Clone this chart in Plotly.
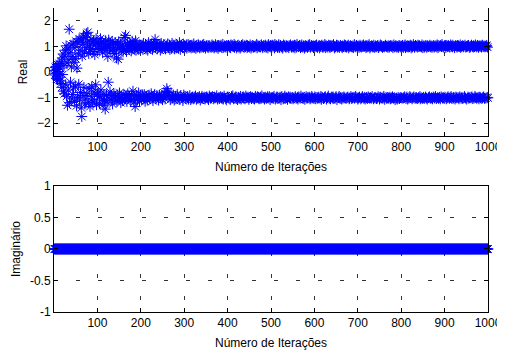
import plotly.graph_objects as go
from plotly.subplots import make_subplots

real_001_100 = [
    0.05, -0.12, 0.18, -0.05, 0.22, -0.25, 0.10, -0.30, 0.28, -0.15, 0.02, 0.33, -0.20, 0.15, -0.35,
    -0.45, 0.40, -0.60, 0.55, -0.10, 0.70, -0.75, 0.25, -0.85, 0.62, 0.85, -0.50, 1.02, -0.95, 0.35,
    -1.30, 0.90, -0.70, 0.48, 1.67, -1.20, 0.75, -0.40, 1.05, 0.20, -1.05, 0.60, -0.88, 1.10, -0.62,
    0.38, -1.15, 0.95, -0.55, 0.52, 1.20, -1.32, 0.15, -0.98, 1.15, 0.70, -0.48, 1.30, -1.10, 0.85,
    -0.80, 1.25, -1.40, -1.74, 0.62, 1.08, -0.92, 1.40, -0.60, 0.78, -1.25, 1.35, -1.05, 0.95, 1.50,
    -0.85, 1.18, 1.55, -1.20, 0.72, -0.65, 1.02, -1.35, 0.88, 1.28, -0.95, -0.58, 1.12, -1.18, 0.80,
    1.22, -0.78, -1.10, 0.68, 1.05, -0.50, 1.30, -1.28, 0.92, -0.88]
real_101_200 = [
    1.15, -0.82, 1.08, 0.88, -1.22, -0.95, 1.30, -0.70, 0.92, 1.18,
    -1.05, 0.75, -1.30, 1.10, -0.88, -1.12, 0.98, -1.45, 1.22, 0.85,
    -0.90, -1.18, 1.05, 0.60, -0.40, 1.25, -1.02, 0.95, -0.78, 1.12,
    0.82, -1.10, -0.92, 1.20, -1.25, 0.90, 1.02, -0.85, 0.72, -1.08,
    1.15, -0.95, 0.88, 0.55, -1.15, 1.08, -0.90, 0.50, 1.18, -1.02,
    -0.82, 0.95, 1.10, -1.20, 0.85, -0.98, 1.05, -1.12, 0.78, 0.92,
    -0.88, 1.35, -1.05, 0.90, 1.43, -0.92, 0.80, -1.15, 1.12, -0.85,
    1.00, -1.02, 0.88, -0.95, 1.15, 1.08, -1.10, 0.82, -0.88, 1.20,
    0.95, -0.75, 1.05, -1.18, 0.90, -1.02, -1.35, 1.22, 0.85, -0.92,
    1.10, -1.08, 0.92, 0.88, -0.82, 1.05, -1.12, 0.98, -0.90, 1.02]
real_201_300 = [
    0.95, -1.08, 1.05, -0.92, 0.88, 1.12, -1.02, -0.88, 0.98, -1.15,
    1.08, 0.90, -0.95, 1.02, -1.10, 0.85, -0.98, 1.15, -0.90, 0.95,
    -1.05, 1.00, 0.92, -0.85, 1.10, -1.02, 0.88, -1.12, 1.05, -0.95,
    1.12, -0.88, 1.27, 0.95, -1.05, 1.02, -0.92, 0.90, 1.08, -1.00,
    -1.10, 0.98, -0.90, 1.05, 0.85, -1.02, 1.12, -0.95, 0.92, -1.08,
    1.00, -0.98, 1.08, -0.82, 0.95, -1.05, 0.90, -0.88, 1.02, -0.65,
    -0.75, 1.10, -0.80, 0.95, -0.92, 1.05, 0.88, -1.08, 1.00, -0.95,
    0.92, 1.12, -1.02, 0.98, -0.90, 1.05, -1.10, 0.90, 1.02, -0.95,
    -1.05, 0.95, 1.08, -0.88, 1.00, -1.02, 0.92, -0.98, 1.15, -1.08,
    0.88, -0.92, 1.05, 1.02, -1.00, 0.95, -1.12, 1.08, -0.90, 0.98]
real_301_400 = [
    1.02, -0.95, 0.98, -1.04, 1.06, 0.93, -1.00, -0.97, 1.08, -1.06,
    0.96, 1.03, -0.92, 1.00, -1.08, 0.94, -1.02, 1.05, -0.98, 0.97,
    -1.05, 1.10, 0.95, -1.00, 1.02, -0.94, 0.92, -1.07, 1.04, -0.99,
    0.97, -1.03, 1.06, 1.00, -0.96, 0.94, -1.10, 1.02, 0.98, -1.01,
    -0.95, 1.05, -1.04, 0.96, 1.08, -0.98, 1.00, -1.06, 0.93, -1.00,
    1.03, -0.97, 0.99, -1.02, 0.95, -1.08, 1.04, -0.94, 1.01, -0.99,
    -1.03, 0.96, -1.00, 1.06, -0.96, 0.98, 1.02, -1.05, 0.94, -0.98,
    1.00, 1.07, -1.01, 0.97, -0.93, 1.04, -1.06, 0.92, 1.03, -1.00,
    -1.04, 0.98, 1.01, -0.97, 1.05, -1.02, 0.95, -0.99, 1.08, -1.06,
    0.96, -0.94, 1.02, 1.00, -1.03, 0.97, -1.09, 1.04, -0.98, 0.99]
real_401_500 = [
    -0.98, 1.04, -1.02, 0.97, 1.01, -1.07, 0.95, 1.06, -0.96, -1.00,
    1.03, -0.93, 0.99, -1.05, 1.08, 0.96, -1.01, 1.02, -0.97, -1.04,
    0.94, 1.00, -1.08, 1.05, -0.99, 0.97, -1.03, 1.01, 0.93, -0.95,
    -1.06, 1.04, 0.98, -1.00, 1.07, -0.97, -1.02, 0.96, 1.02, -1.05,
    0.99, -0.94, 1.05, -1.01, 0.95, 1.03, -0.98, 1.00, -1.07, 0.97,
    -1.00, 1.06, -0.96, 0.93, -1.04, 1.01, -0.99, 1.04, 0.96, -1.03,
    1.00, -1.06, 0.98, -0.95, 1.02, -1.01, 1.08, 0.94, -0.97, 1.03,
    -1.02, 0.99, -1.05, 1.01, 0.97, -0.98, -1.04, 1.06, -0.93, 1.00,
    0.95, -1.01, 1.03, -0.99, -1.06, 0.98, 1.05, -1.00, 0.96, -1.03,
    1.02, -0.97, 0.94, 1.07, -1.02, -0.96, 1.00, -1.08, 1.04, 0.98]
real_501_600 = [
    -1.01, 0.97, 1.05, -0.99, -1.03, 1.02, -0.95, 0.94, 1.08, -1.06,
    0.99, -1.00, 1.03, -0.97, 0.96, -1.04, 1.01, 1.07, -1.02, 0.95,
    -0.98, 1.04, -1.08, 0.98, -0.96, 1.00, 0.93, -1.05, 1.06, -1.01,
    1.02, -0.94, -1.03, 0.97, 1.04, -1.00, 0.99, -1.07, 1.01, -0.97,
    0.95, 1.03, -1.02, -0.98, 1.06, -1.04, 1.00, 0.96, -0.99, 1.02,
    -1.05, 0.98, -1.01, 1.05, 0.94, -0.96, 1.03, -1.03, 0.97, 1.08,
    -1.00, -1.06, 0.99, -0.97, 1.01, 1.04, -1.02, 0.95, -0.94, 1.00,
    1.06, -1.01, 0.97, -1.04, 1.02, -0.99, 0.93, -1.07, 1.03, 0.98,
    -0.96, 1.01, -1.03, 0.96, -1.00, 1.05, 1.00, -0.98, 1.07, -1.05,
    0.97, -1.02, 1.04, -0.95, 0.99, -1.01, 1.02, 0.95, -1.04, 1.00]
real_601_700 = [
    -0.97, 1.03, -1.05, 0.99, 1.06, -1.00, 0.96, -1.03, 1.01, -0.98,
    1.04, 0.94, -1.02, 1.00, -0.95, -1.07, 1.05, -0.99, 0.97, 1.02,
    -1.04, 0.98, -1.01, 1.08, -0.96, 0.95, 1.03, -1.06, 1.00, -1.00,
    0.97, -0.94, 1.05, -1.03, 1.01, 0.96, -1.05, 1.04, -0.98, 0.99,
    1.02, -1.01, -0.97, 1.07, -1.04, 0.94, 1.00, -1.02, 0.98, -0.96,
    1.05, -1.08, 0.97, 1.03, -1.00, 1.01, -0.95, 0.96, -1.03, 1.04,
    -0.99, 1.00, -1.06, 0.95, 1.02, -1.02, 0.99, -0.97, 1.06, -1.01,
    0.98, 1.04, -1.04, 0.97, -1.00, 1.01, -0.98, 1.05, 0.94, -1.05,
    -1.02, 0.99, 1.03, -0.96, 1.00, -1.04, 0.97, -1.01, 1.02, 0.96,
    -0.99, 1.07, -1.03, 0.98, -0.95, 1.01, 1.04, -1.00, 0.97, -1.06]
real_701_800 = [
    1.01, -1.02, 0.96, -0.98, 1.05, 1.00, -1.05, 0.97, -1.01, 1.03,
    -0.96, 0.99, 1.06, -1.03, 1.00, -0.99, -1.06, 1.02, 0.95, -1.00,
    1.04, -1.04, 0.98, -0.97, 1.01, 1.07, -1.02, 0.94, -1.00, 0.99,
    -1.03, 1.03, -0.96, 1.00, 0.97, -1.05, 1.05, -1.01, 0.96, -0.99,
    1.02, 1.00, -1.04, 0.98, -1.02, 1.04, -0.97, 0.95, 1.01, -1.06,
    -1.00, 1.06, -0.98, 0.99, 1.03, -1.03, 0.96, -1.01, 1.00, -0.95,
    0.98, -1.07, 1.02, 1.05, -0.99, 1.00, -1.04, 0.97, -1.00, 1.03,
    -1.02, 0.96, 1.01, -0.98, -1.05, 1.04, 0.99, -1.01, 1.02, -0.97,
    0.95, -1.03, 1.06, -1.00, 0.98, -1.08, 1.01, 1.03, -1.02, 0.97,
    -1.06, 1.00, -0.99, 0.96, 1.04, -1.04, 1.02, -1.00, 0.98, 1.01]
real_801_900 = [
    -1.01, 0.98, 1.04, -1.03, 0.96, -1.00, 1.02, -0.97, 1.06, 0.95,
    -1.04, 1.00, -0.98, 1.03, -1.06, 0.97, 1.01, -1.02, 0.99, -0.96,
    1.05, -1.00, 0.94, 1.02, -1.05, 0.98, -1.01, 1.07, -0.97, 1.00,
    0.96, -1.03, 1.04, -0.99, -1.02, 1.01, 0.97, -1.04, 1.05, -1.00,
    0.99, 1.03, -0.96, -1.05, 1.00, -1.01, 0.98, 1.06, -1.03, 0.95,
    -0.99, 1.02, -1.04, 0.97, 1.01, -0.98, 1.04, -1.02, 0.96, -1.06,
    1.03, 1.00, -1.00, 0.99, -0.97, 1.05, -1.03, 0.98, 1.02, -1.01,
    0.96, -1.05, 1.01, -0.98, 1.04, 0.97, -1.02, 1.00, -0.96, 1.03,
    -1.04, 0.98, 1.06, -1.00, 0.95, -1.03, 1.02, -0.99, 1.00, -1.05,
    1.04, -0.97, 0.99, 1.08, -1.02, 1.01, -1.00, 0.97, -1.04, 1.03]
real_901_1000 = [
    -0.98, 1.02, 0.96, -1.05, 1.04, -1.01, 0.99, -0.97, 1.03, 1.00,
    -1.03, 0.97, -1.00, 1.06, -0.96, 1.01, -1.04, 0.98, 1.05, -0.99,
    -1.02, 1.00, 0.95, -1.06, 1.03, -0.98, 1.01, -1.01, 0.97, 1.04,
    -1.00, 1.02, -1.05, 0.99, -0.97, 1.06, 0.96, -1.03, 1.00, -0.99,
    1.03, -1.04, 0.98, 1.01, -1.00, -0.96, 1.05, -1.02, 0.97, 1.00,
    -1.06, 0.99, 1.02, -0.98, 1.04, -1.03, 0.96, -1.00, 1.01, 0.98,
    -1.01, 1.05, -0.97, 1.00, -1.04, 0.97, 1.03, -1.02, 0.99, -0.95,
    1.06, -1.00, 0.98, -1.03, 1.01, 1.04, -0.99, 0.96, -1.05, 1.02,
    -0.98, 1.00, -1.01, 1.03, 0.97, -1.04, 1.05, -1.00, 0.99, -0.97,
    1.02, -1.03, 0.98, 1.01, -1.02, 1.00, 1.04, -0.99, 0.97, -1.01]

real_vals = (real_001_100 + real_101_200 + real_201_300 + real_301_400 + real_401_500
             + real_501_600 + real_601_700 + real_701_800 + real_801_900 + real_901_1000)
iterations = list(range(1, len(real_vals) + 1))
imag_vals = [0.0] * len(real_vals)

x_ticks = [100, 200, 300, 400, 500, 600, 700, 800, 900, 1000]
real_ticks = [-2, -1, 0, 1, 2]
imag_ticks = [-1, -0.5, 0, 0.5, 1]
imag_tick_text = ["-1", "-0.5", "0", "0.5", "1"]

BLUE = "#0000FF"
FONT = "Liberation Sans, Arial, sans-serif"

fig = make_subplots(rows=2, cols=1)
marker = dict(symbol="asterisk-open", size=9, color=BLUE, line=dict(color=BLUE, width=1))
fig.add_trace(go.Scatter(x=iterations, y=real_vals, mode="markers", marker=marker,
                         cliponaxis=False, showlegend=False), row=1, col=1)
fig.add_trace(go.Scatter(x=iterations, y=imag_vals, mode="markers", marker=marker,
                         cliponaxis=False, showlegend=False), row=2, col=1)

axis_common = dict(showline=True, linecolor="black", linewidth=1, mirror="allticks",
                   ticks="inside", ticklen=4, tickcolor="black",
                   showgrid=True, gridcolor="#333333", gridwidth=1, griddash="4px,18px",
                   zeroline=False, tickfont=dict(family=FONT, size=12, color="black"),
                   title_font=dict(family=FONT, size=12, color="black"),
                   ticklabeloverflow="allow", automargin=False)

fig.update_xaxes(range=[0, 1000], tickvals=x_ticks, title_text="Número de Iterações",
                 title_standoff=9, **axis_common)
fig.update_yaxes(**axis_common)
fig.update_yaxes(range=[-2.5, 2.5], tickvals=real_ticks, title_text="Real",
                 title_standoff=6, row=1, col=1)
fig.update_yaxes(range=[-1, 1], tickvals=imag_ticks, ticktext=imag_tick_text,
                 title_text="Imaginário", title_standoff=6, row=2, col=1)

# page body has an 8px default margin, so the figure is sized to fit the window
fig.update_layout(
    width=497, height=346,
    margin=dict(l=46, r=17, t=0, b=42),
    paper_bgcolor="white", plot_bgcolor="white",
    font=dict(family=FONT, size=12, color="black"),
    xaxis=dict(domain=[0, 1]), xaxis2=dict(domain=[0, 1]),
    yaxis=dict(domain=[0.579, 1.0]), yaxis2=dict(domain=[0.0, 0.4145]),
)

fig.write_html("out.html")
